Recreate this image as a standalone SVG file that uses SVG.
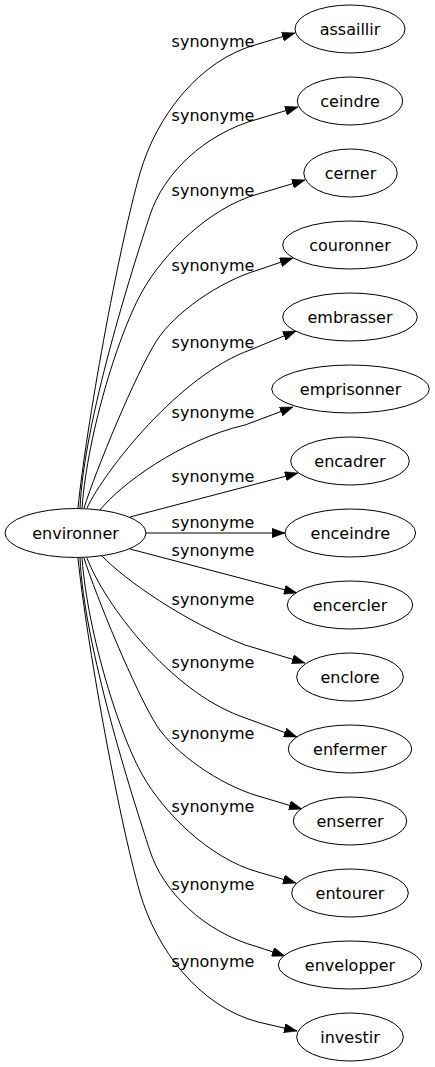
<svg xmlns="http://www.w3.org/2000/svg" width="435" height="1067" viewBox="0 0 435 1067">
<style>
.node ellipse{fill:#fff;stroke:#000;stroke-width:1}
text{font-family:"DejaVu Sans",sans-serif;font-size:16px;fill:#000;text-anchor:middle}
.edges path{fill:none;stroke:#000;stroke-width:1;marker-end:url(#arr)}
</style>
<defs>
<marker id="arr" markerUnits="userSpaceOnUse" viewBox="0 0 13 9.4" refX="13" refY="4.7" markerWidth="13" markerHeight="9.4" orient="auto">
<path d="M0,0 L13,4.7 L0,9.4 z" fill="#000" stroke="#000" stroke-width="0.5"/>
</marker>
</defs>
<rect width="435" height="1067" fill="#fff"/>
<g class="edges" id="edges">
<path d="M78,508 C86,428 118,250 140,173 C156,118 198,60 258,44 L295,33"/>
<path d="M80,508 C84,420 132,270 150,215 C163,175 203,134 258,119 L298,107"/>
<path d="M82,508 C88,430 120,330 143,290 C163,255 208,208 258,194 L305,180"/>
<path d="M84,508 C96,470 135,375 157,340 C175,313 218,282 258,270 L293,258"/>
<path d="M87,508 C105,470 180,375 250,350 L296,331"/>
<path d="M100,510 C120,485 180,440 245,425 L293,407"/>
<path d="M130,517 L298,473"/>
<path d="M146,533 L285,533"/>
<path d="M130,549 L297,593"/>
<path d="M102,556 C125,580 185,622 245,645 L305,663"/>
<path d="M87,558 C105,605 170,690 240,716 L297,737"/>
<path d="M84,558 C96,596 135,691 157,726 C175,753 218,784 258,796 L302,809"/>
<path d="M82,558 C88,636 120,736 143,776 C163,811 208,858 258,872 L296,883"/>
<path d="M80,558 C84,646 132,796 150,851 C163,891 203,932 258,947 L285,956"/>
<path d="M78,558 C86,638 118,816 140,893 C156,948 198,1006 258,1022 L297,1031"/>
</g>
<g id="edge-labels">
<text x="213" y="47">synonyme</text>
<text x="213" y="121">synonyme</text>
<text x="213" y="196">synonyme</text>
<text x="213" y="271">synonyme</text>
<text x="213" y="348">synonyme</text>
<text x="213" y="418">synonyme</text>
<text x="213" y="482">synonyme</text>
<text x="213" y="528">synonyme</text>
<text x="213" y="556">synonyme</text>
<text x="213" y="605">synonyme</text>
<text x="213" y="668">synonyme</text>
<text x="213" y="739">synonyme</text>
<text x="213" y="812">synonyme</text>
<text x="213" y="890">synonyme</text>
<text x="213" y="967">synonyme</text>
</g>
<g class="node" id="n-environner"><ellipse cx="75.5" cy="533" rx="70.5" ry="24.5"/><text x="75.5" y="539">environner</text></g>
<g class="node" id="n-assaillir"><ellipse cx="350" cy="29" rx="55" ry="24"/><text x="350" y="35">assaillir</text></g>
<g class="node" id="n-ceindre"><ellipse cx="350" cy="101" rx="52.7" ry="24"/><text x="350" y="107">ceindre</text></g>
<g class="node" id="n-cerner"><ellipse cx="350.5" cy="173" rx="46.7" ry="24"/><text x="350.5" y="179">cerner</text></g>
<g class="node" id="n-couronner"><ellipse cx="350" cy="245" rx="67.3" ry="24"/><text x="350" y="251">couronner</text></g>
<g class="node" id="n-embrasser"><ellipse cx="350" cy="317" rx="67.3" ry="24"/><text x="350" y="323">embrasser</text></g>
<g class="node" id="n-emprisonner"><ellipse cx="350.5" cy="389" rx="78.8" ry="24"/><text x="350.5" y="395">emprisonner</text></g>
<g class="node" id="n-encadrer"><ellipse cx="350" cy="461" rx="59.3" ry="24"/><text x="350" y="467">encadrer</text></g>
<g class="node" id="n-enceindre"><ellipse cx="350.3" cy="533" rx="65.3" ry="24"/><text x="350.3" y="539">enceindre</text></g>
<g class="node" id="n-encercler"><ellipse cx="350" cy="605" rx="62.7" ry="24"/><text x="350" y="611">encercler</text></g>
<g class="node" id="n-enclore"><ellipse cx="350" cy="677" rx="53.3" ry="24"/><text x="350" y="683">enclore</text></g>
<g class="node" id="n-enfermer"><ellipse cx="350" cy="749" rx="61.7" ry="24"/><text x="350" y="755">enfermer</text></g>
<g class="node" id="n-enserrer"><ellipse cx="350" cy="821" rx="56.7" ry="24"/><text x="350" y="827">enserrer</text></g>
<g class="node" id="n-entourer"><ellipse cx="350" cy="893" rx="58.3" ry="24"/><text x="350" y="899">entourer</text></g>
<g class="node" id="n-envelopper"><ellipse cx="350" cy="965" rx="71.7" ry="24"/><text x="350" y="971">envelopper</text></g>
<g class="node" id="n-investir"><ellipse cx="350" cy="1037" rx="53.3" ry="24"/><text x="350" y="1043">investir</text></g>
</svg>
